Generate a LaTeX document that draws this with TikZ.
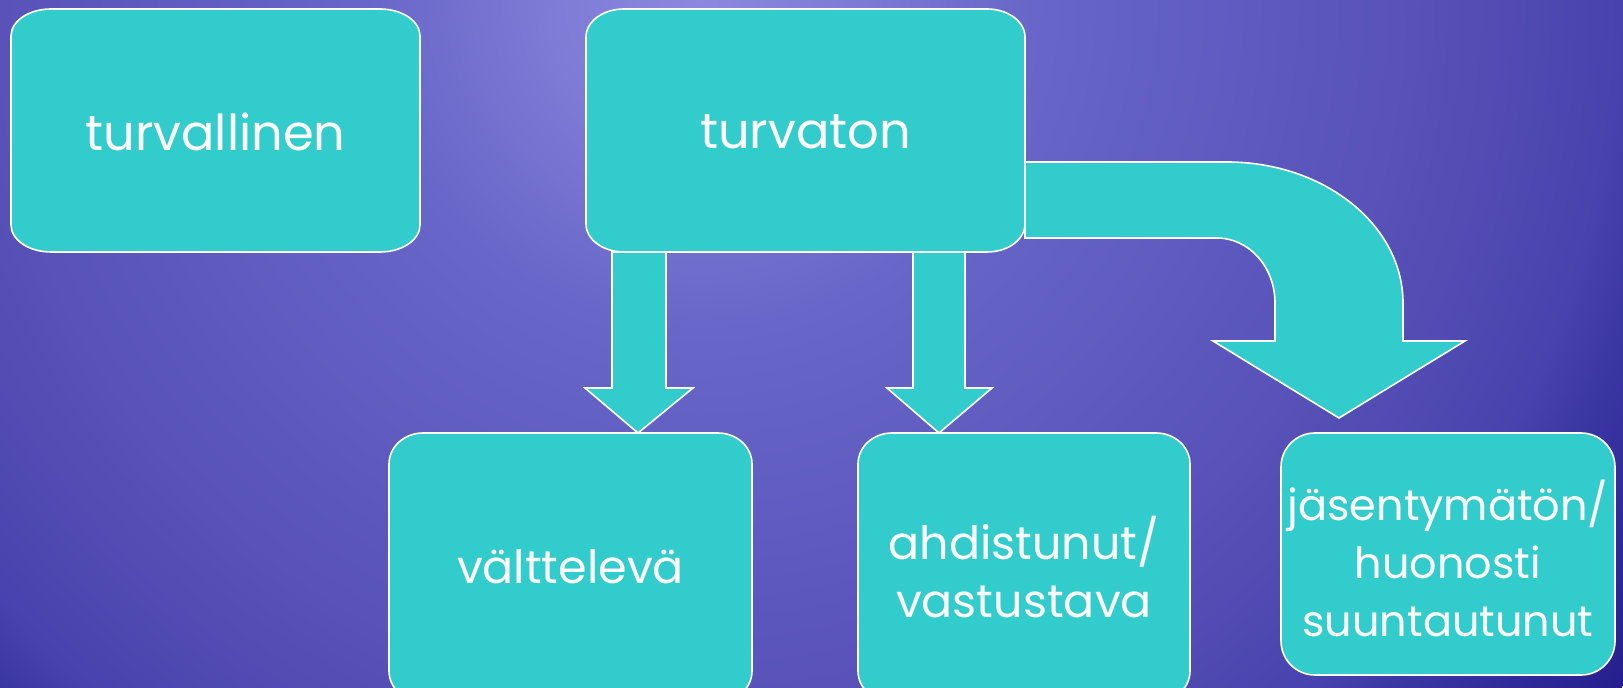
\documentclass[tikz,border=0pt]{standalone}
\usepackage{fontspec}
\setmainfont{Poppins}
\definecolor{boxfill}{RGB}{51,204,204}
\definecolor{bgA}{RGB}{140,136,222}
\definecolor{bgA2}{RGB}{126,123,214}
\definecolor{bgB}{RGB}{104,102,200}
\definecolor{bgB2}{RGB}{88,82,185}
\definecolor{bgC}{RGB}{84,78,180}
\definecolor{bgD}{RGB}{72,66,174}
\definecolor{bgE}{RGB}{58,54,162}
\definecolor{bgF}{RGB}{38,30,142}
\pgfdeclareradialshading{bgshade}{\pgfpoint{0bp}{0bp}}{color(0bp)=(bgA); color(3.3bp)=(bgA2); color(7.2bp)=(bgB); color(15.2bp)=(bgB2); color(16.7bp)=(bgC); color(20bp)=(bgD); color(21.3bp)=(bgE); color(25bp)=(bgF); color(50bp)=(bgF)}
\tikzset{
  shapefill/.style={fill=boxfill, draw=white, line width=1.6pt, line join=miter},
  boxtext/.style={inner sep=0pt, text=white, align=center, font=\fontsize{46}{58}\selectfont},
}
\newcommand\eboxpath[6]{%
  \path[shapefill] (#1+#5,#4) -- (#3-#5,#4)
    arc[start angle=90,end angle=0,x radius=#5pt,y radius=#6pt] -- (#3,#2+#6)
    arc[start angle=0,end angle=-90,x radius=#5pt,y radius=#6pt] -- (#1+#5,#2)
    arc[start angle=270,end angle=180,x radius=#5pt,y radius=#6pt] -- (#1,#4-#6)
    arc[start angle=180,end angle=90,x radius=#5pt,y radius=#6pt] -- cycle;}
\begin{document}
\begin{tikzpicture}[x=1pt,y=1pt]
\useasboundingbox (0,0) rectangle (1623,688);
\begin{scope}
  \clip (0,0) rectangle (1623,688);
  \shade[shading=bgshade] (700,688) circle (1150pt);
\end{scope}

% block arrows
\path[shapefill] (612,436) -- (612,300) -- (585,300) -- (638,255) -- (693,300) -- (666,300) -- (666,436) -- cycle;
\path[shapefill] (913,436) -- (913,300) -- (887,300) -- (939,255) -- (992,300) -- (965,300) -- (965,436) -- cycle;
\path[shapefill] (1025,526) -- (1227,526)
   arc[start angle=90,end angle=0,x radius=176pt,y radius=141pt]
   -- (1403,347) -- (1465,347) -- (1339,270) -- (1213,347) -- (1275,347) -- (1275,385)
   arc[start angle=0,end angle=90,x radius=58pt,y radius=65pt]
   -- (1025,450) -- cycle;

% boxes
\eboxpath{11}{436}{420}{679}{40}{27}
\eboxpath{586}{436}{1025}{679}{38}{28}
\eboxpath{389}{-14}{752}{255}{34}{31}
\eboxpath{858}{-14}{1190}{255}{34}{31}
\eboxpath{1281}{13}{1615}{255}{34}{34}

\node[boxtext, font=\fontsize{49.5}{58}\selectfont] (sec) at (215.5,556) {turvallinen};
\node[boxtext, font=\fontsize{49.5}{58}\selectfont] (insec) at (805.5,556) {turvaton};
\node[boxtext] (avoid) at (570.5,121) {välttelevä};
\node[boxtext] (anx) at (1024,121) {ahdistunut/\\vastustava};
\node[boxtext, font=\fontsize{43}{58}\selectfont] (dis) at (1448,130) {jäsentymätön/\\huonosti\\suuntautunut};
\end{tikzpicture}
\end{document}
